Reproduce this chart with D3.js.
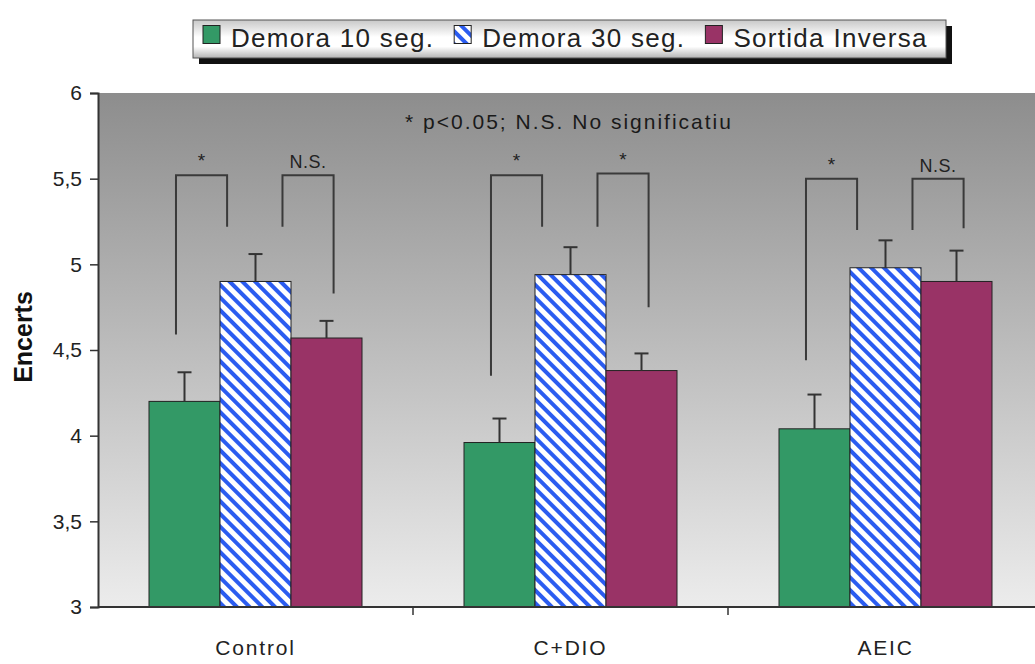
<!DOCTYPE html>
<html>
<head>
<meta charset="utf-8">
<script src="https://cdn.jsdelivr.net/npm/d3@7"></script>
<style>
  html, body { margin: 0; padding: 0; background: #fff; }
  svg { display: block; font-family: "Liberation Sans", Arial, sans-serif; }
</style>
</head>
<body>
<svg id="chart" width="1035" height="664"></svg>
<script>
// Groups and series
const categories = ["Control", "C+DIO", "AEIC"];
const seriesNames = ["Demora 10 seg.", "Demora 30 seg.", "Sortida Inversa"];

// Mean number of correct responses per group (one array per series)
const demora10 = [4.20, 3.96, 4.04];
const demora30 = [4.90, 4.94, 4.98];
const sortidaInversa = [4.57, 4.38, 4.90];

// Upper end of the error bars
const demora10Err = [4.37, 4.10, 4.24];
const demora30Err = [5.06, 5.10, 5.14];
const sortidaInversaErr = [4.67, 4.48, 5.08];

// Y axis ticks
const yTicks = [3, 3.5, 4, 4.5, 5, 5.5, 6];
const yTickLabels = ["3", "3,5", "4", "4,5", "5", "5,5", "6"];

// Significance brackets: [top, left leg end, right leg end] in axis units
const bracketLeft = [[5.52, 4.59, 5.22], [5.52, 4.35, 5.22], [5.50, 4.44, 5.20]];
const bracketRight = [[5.52, 5.22, 4.83], [5.53, 5.22, 4.75], [5.50, 5.20, 5.21]];
const bracketLeftLabel = ["*", "*", "*"];
const bracketRightLabel = ["N.S.", "*", "N.S."];
const noteText = "* p<0.05; N.S. No significatiu";
const yTitle = "Encerts";

const values = [demora10, demora30, sortidaInversa];
const errs = [demora10Err, demora30Err, sortidaInversaErr];
const colors = ["#339966", "url(#hatch)", "#993366"];

const svg = d3.select("#chart");
const defs = svg.append("defs");

// plot background gradient
const bg = defs.append("linearGradient").attr("id", "bgGrad")
  .attr("x1", 0).attr("y1", 0).attr("x2", 0).attr("y2", 1);
bg.append("stop").attr("offset", "0%").attr("stop-color", "#8d8d8d");
bg.append("stop").attr("offset", "100%").attr("stop-color", "#ececec");

// legend box gradient
const lg = defs.append("linearGradient").attr("id", "legGrad")
  .attr("x1", 0).attr("y1", 0).attr("x2", 0).attr("y2", 1);
lg.append("stop").attr("offset", "0%").attr("stop-color", "#c8c8c8");
lg.append("stop").attr("offset", "45%").attr("stop-color", "#ffffff");
lg.append("stop").attr("offset", "70%").attr("stop-color", "#ffffff");
lg.append("stop").attr("offset", "100%").attr("stop-color", "#b4b4b4");

// diagonal hatch
const pat = defs.append("pattern").attr("id", "hatch")
  .attr("patternUnits", "userSpaceOnUse")
  .attr("width", 9).attr("height", 9)
  .attr("patternTransform", "rotate(-45)");
pat.append("rect").attr("width", 9).attr("height", 9).attr("fill", "#ffffff");
pat.append("rect").attr("x", 0).attr("width", 4).attr("height", 9).attr("fill", "#2b5cf0");

const plot = { left: 98, right: 1043, top: 93, bottom: 607 };

const x0 = d3.scaleBand().domain(categories).range([plot.left, plot.right]).padding(0);
const x1 = d3.scaleBand().domain(d3.range(seriesNames.length))
  .range([51, 264]).padding(0);
const y = d3.scaleLinear().domain([3, 6]).range([plot.bottom, plot.top]);

// background
svg.append("rect").attr("x", plot.left).attr("y", plot.top)
  .attr("width", plot.right - plot.left).attr("height", plot.bottom - plot.top)
  .attr("fill", "url(#bgGrad)");

// note
svg.append("text").attr("x", 569).attr("y", 129)
  .attr("text-anchor", "middle").attr("font-size", 21).attr("letter-spacing", 2)
  .attr("fill", "#1a1a1a").text(noteText);

// bars
const groups = svg.append("g").selectAll("g").data(categories).join("g")
  .attr("transform", d => `translate(${x0(d)},0)`);

groups.each(function (cat, ci) {
  const g = d3.select(this);
  values.forEach((arr, si) => {
    g.append("rect")
      .attr("x", x1(si)).attr("y", y(arr[ci]))
      .attr("width", x1.bandwidth()).attr("height", y(3) - y(arr[ci]))
      .attr("fill", colors[si]).attr("stroke", "#222").attr("stroke-width", 1);
    const cx = x1(si) + x1.bandwidth() / 2;
    g.append("line").attr("x1", cx).attr("x2", cx)
      .attr("y1", y(arr[ci])).attr("y2", y(errs[si][ci]))
      .attr("stroke", "#333").attr("stroke-width", 2);
    g.append("line").attr("x1", cx - 7).attr("x2", cx + 7)
      .attr("y1", y(errs[si][ci])).attr("y2", y(errs[si][ci]))
      .attr("stroke", "#333").attr("stroke-width", 2);
  });

  // brackets, leg positions measured in bar widths from the group start
  const bw = x1.bandwidth();
  const drawBracket = (b, la, lb, label) => {
    const xa = x1(0) + la * bw, xb = x1(0) + lb * bw;
    g.append("path")
      .attr("d", `M${xa},${y(b[1])}V${y(b[0])}H${xb}V${y(b[2])}`)
      .attr("fill", "none").attr("stroke", "#3a3a3a").attr("stroke-width", 2);
    g.append("text").attr("x", (xa + xb) / 2)
      .attr("y", y(b[0]) - (label === "*" ? 8 : 7))
      .attr("text-anchor", "middle").attr("font-size", label === "*" ? 19 : 18)
      .attr("letter-spacing", label === "*" ? 0 : 0.5)
      .attr("fill", "#222").text(label);
  };
  drawBracket(bracketLeft[ci], 0.38, 1.1, bracketLeftLabel[ci]);
  drawBracket(bracketRight[ci], 1.88, 2.6, bracketRightLabel[ci]);
});

// y axis
const yAxis = svg.append("g").attr("transform", `translate(${plot.left},0)`)
  .call(d3.axisLeft(y).tickValues(yTicks).tickSize(8).tickPadding(8)
    .tickFormat((d, i) => yTickLabels[i]));
yAxis.select(".domain").attr("stroke", "#333").attr("stroke-width", 2);
yAxis.selectAll(".tick line").attr("stroke", "#333").attr("stroke-width", 1.5);
yAxis.selectAll(".tick text").attr("font-size", 21).attr("fill", "#222")
  .attr("font-family", "Liberation Sans, Arial, sans-serif");

// x axis
const xAxis = svg.append("g").attr("transform", `translate(0,${plot.bottom})`);
xAxis.append("line").attr("x1", plot.left).attr("x2", plot.right)
  .attr("stroke", "#333").attr("stroke-width", 2);
xAxis.selectAll("line.ct").data(categories.slice(1)).join("line").attr("class", "ct")
  .attr("x1", d => x0(d)).attr("x2", d => x0(d)).attr("y1", 0).attr("y2", 8)
  .attr("stroke", "#333").attr("stroke-width", 1.5);
xAxis.selectAll("text").data(categories).join("text")
  .attr("x", d => x0(d) + x0.bandwidth() / 2).attr("y", 48)
  .attr("text-anchor", "middle").attr("font-size", 21).attr("fill", "#222")
  .attr("letter-spacing", 1.8).text(d => d);

// y title
svg.append("text").attr("transform", "translate(32,337) rotate(-90)")
  .attr("text-anchor", "middle").attr("font-size", 25).attr("font-weight", "bold")
  .attr("fill", "#111").text(yTitle);

// legend
const legend = svg.append("g");
const legBox = { x: 193, y: 20, w: 753, h: 38 };
legend.append("rect").attr("x", legBox.x + 6).attr("y", legBox.y + 6)
  .attr("width", legBox.w).attr("height", legBox.h).attr("fill", "#111");
legend.append("rect").attr("x", legBox.x).attr("y", legBox.y)
  .attr("width", legBox.w).attr("height", legBox.h)
  .attr("fill", "url(#legGrad)").attr("stroke", "#555").attr("stroke-width", 1);

let lx = legBox.x + 10;
seriesNames.forEach((name, i) => {
  legend.append("rect").attr("x", lx).attr("y", 25.5).attr("width", 17).attr("height", 18)
    .attr("fill", colors[i]).attr("stroke", "#222").attr("stroke-width", 1);
  const t = legend.append("text").attr("x", lx + 28).attr("y", 47)
    .attr("font-size", 26).attr("letter-spacing", 1.3).attr("fill", "#222").text(name);
  lx += 28 + t.node().getComputedTextLength() + 20;
});
</script>
</body>
</html>
